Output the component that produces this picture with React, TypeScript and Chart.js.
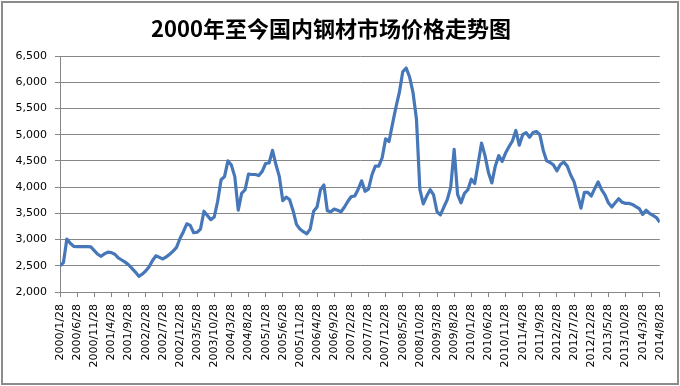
import React, { useEffect, useRef } from 'react';
import { Chart, registerables } from 'chart.js';

Chart.register(...registerables);

const titleText = '2000年至今国内钢材市场价格走势图';

const tickLabels = [
  '2000/1/28', '2000/6/28', '2000/11/28', '2001/4/28', '2001/9/28', '2002/2/28',
  '2002/7/28', '2002/12/28', '2003/5/28', '2003/10/28', '2004/3/28', '2004/8/28',
  '2005/1/28', '2005/6/28', '2005/11/28', '2006/4/28', '2006/9/28', '2007/2/28',
  '2007/7/28', '2007/12/28', '2008/5/28', '2008/10/28', '2009/3/28', '2009/8/28',
  '2010/1/28', '2010/6/28', '2010/11/28', '2011/4/28', '2011/9/28', '2012/2/28',
  '2012/7/28', '2012/12/28', '2013/5/28', '2013/10/28', '2014/3/28', '2014/8/28',
];

// monthly prices, 2000/1 .. 2014/8
const prices2000 = [2500, 2560, 3010, 2930, 2870, 2865, 2865, 2865, 2865, 2860, 2790, 2720];
const prices2001 = [2680, 2730, 2760, 2750, 2720, 2650, 2610, 2570, 2520, 2450, 2380, 2300];
const prices2002 = [2340, 2400, 2480, 2600, 2690, 2660, 2630, 2670, 2720, 2780, 2850, 3020];
const prices2003 = [3150, 3300, 3270, 3130, 3140, 3200, 3540, 3460, 3380, 3430, 3730, 4140];
const prices2004 = [4200, 4500, 4420, 4200, 3560, 3880, 3950, 4250, 4240, 4240, 4220, 4300];
const prices2005 = [4450, 4460, 4700, 4430, 4200, 3740, 3810, 3760, 3550, 3290, 3200, 3150];
const prices2006 = [3110, 3200, 3540, 3620, 3950, 4040, 3550, 3530, 3580, 3560, 3530, 3620];
const prices2007 = [3730, 3820, 3830, 3960, 4120, 3920, 3960, 4230, 4400, 4400, 4560, 4920];
const prices2008 = [4870, 5200, 5520, 5800, 6200, 6270, 6100, 5800, 5300, 3950, 3680, 3830];
const prices2009 = [3950, 3850, 3530, 3470, 3620, 3760, 4000, 4720, 3860, 3700, 3880, 3950];
const prices2010 = [4150, 4070, 4450, 4840, 4600, 4280, 4080, 4400, 4600, 4490, 4650, 4770];
const prices2011 = [4880, 5080, 4800, 5000, 5040, 4950, 5040, 5060, 5000, 4700, 4500, 4470];
const prices2012 = [4420, 4310, 4430, 4480, 4400, 4230, 4100, 3850, 3600, 3900, 3900, 3830];
const prices2013 = [3970, 4100, 3950, 3850, 3700, 3620, 3700, 3780, 3710, 3690, 3690, 3670];
const prices2014 = [3630, 3590, 3480, 3560, 3500, 3460, 3420, 3330];

const prices = [
  ...prices2000, ...prices2001, ...prices2002, ...prices2003, ...prices2004,
  ...prices2005, ...prices2006, ...prices2007, ...prices2008, ...prices2009,
  ...prices2010, ...prices2011, ...prices2012, ...prices2013, ...prices2014,
];

const yMin = 2000;
const yMax = 6500;
const yStep = 500;

export default function App() {
  const ref = useRef<HTMLCanvasElement>(null);

  useEffect(() => {
    const tickFont = { family: '"DejaVu Sans", sans-serif', size: 11 };
    const chart = new Chart(ref.current!, {
      type: 'line',
      data: {
        datasets: [
          {
            data: prices.map((v, i) => ({ x: i, y: v })),
            borderColor: '#4677b8',
            borderWidth: 3.2,
            pointRadius: 0,
            tension: 0,
            fill: false,
            borderJoinStyle: 'round',
          },
        ],
      },
      options: {
        responsive: false,
        animation: false,
        layout: { padding: { left: 0, right: 18, top: 0, bottom: 0 } },
        plugins: {
          legend: { display: false },
          tooltip: { enabled: false },
          title: {
            display: true,
            text: titleText,
            color: '#000',
            font: { family: '"Noto Sans CJK SC", sans-serif', size: 22, weight: 'bold', lineHeight: 1.2 },
            padding: { top: 15, bottom: 14.6 },
          },
        },
        scales: {
          x: {
            type: 'linear',
            min: 0,
            max: prices.length - 1,
            ticks: {
              stepSize: 5,
              autoSkip: false,
              minRotation: 90,
              maxRotation: 90,
              color: '#000',
              font: tickFont,
              padding: 7,
              callback: (v: any) => tickLabels[Math.round(Number(v) / 5)],
            },
            grid: { drawOnChartArea: false, drawTicks: true, tickLength: 5, color: '#868686' },
            border: { color: '#868686', width: 1 },
            afterFit: (s: any) => {
              s.height = 94;
            },
          },
          y: {
            min: yMin,
            max: yMax,
            ticks: {
              stepSize: yStep,
              color: '#000',
              font: tickFont,
              padding: 8,
              callback: (v: any) => Number(v).toLocaleString('en-US'),
            },
            grid: { color: '#868686', tickLength: 5 },
            border: { color: '#868686', width: 1 },
            afterFit: (s: any) => {
              s.width = 60;
            },
          },
        },
      },
    });
    return () => chart.destroy();
  }, []);

  return (
    <div style={{ position: 'absolute', left: 0, top: 0, width: 680, height: 386, background: '#fff' }}>
      <canvas ref={ref} width={680} height={386} style={{ position: 'absolute', left: 0, top: 0 }} />
      <div
        style={{
          position: 'absolute',
          left: 1,
          top: 1,
          width: 678,
          height: 384,
          boxSizing: 'border-box',
          border: '2px solid #8c8c8c',
          pointerEvents: 'none',
        }}
      />
    </div>
  );
}
